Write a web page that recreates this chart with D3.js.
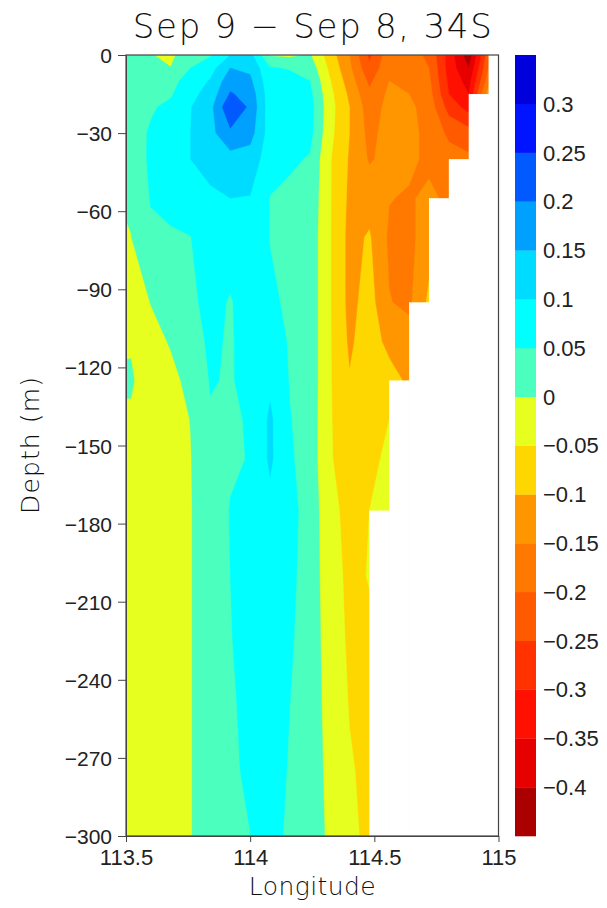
<!DOCTYPE html>
<html>
<head>
<meta charset="utf-8">
<script src="https://cdn.jsdelivr.net/npm/d3@7"></script>
<style>
  body { margin: 0; background: #fff; }
  svg { display: block; }
  text { font-family: "Liberation Sans", Arial, sans-serif; fill: #222; }
  text.title { font-family: "DejaVu Sans", sans-serif; font-weight: 300; fill: #111; }
</style>
</head>
<body>
<svg id="chart" width="607" height="908"></svg>
<script>
// Grid longitudes (degrees E) and model depth levels (m)
const lons = [113.44, 113.52, 113.60, 113.68, 113.76, 113.84, 113.92, 114.00, 114.08, 114.16,
              114.24, 114.32, 114.40, 114.48, 114.56, 114.64, 114.72, 114.80, 114.88, 114.96, 115.04];
const depths = [0, 5, 10, 15, 20, 30, 40, 55, 70, 95, 110, 125, 140, 155, 175, 200, 225, 250, 275, 300];

// Deepest wet level at each grid longitude (shelf topography)
const bottomDepth = [300, 300, 300, 300, 300, 300, 300, 300, 300, 300, 300, 300, 300, 300,
                     175, 125, 95, 55, 40, 15, 0];

// Temperature difference, one row per depth level, one value per longitude
const anomaly = [
  [ 0.015, 0.010, 0.002,-0.010, 0.030, 0.045, 0.100, 0.115,-0.005,-0.010, 0.005,-0.075,-0.150,-0.260,-0.170,-0.180,-0.210,-0.320,-0.430,-0.220,-0.220],
  [ 0.015, 0.012, 0.010, 0.001, 0.050, 0.080, 0.150, 0.140, 0.055, 0.045, 0.030,-0.060,-0.140,-0.240,-0.160,-0.170,-0.200,-0.320,-0.400,-0.200,-0.200],
  [ 0.018, 0.015, 0.020, 0.035, 0.070, 0.105, 0.180, 0.160, 0.065, 0.070, 0.050,-0.045,-0.125,-0.210,-0.150,-0.160,-0.190,-0.310,-0.370,-0.170,-0.170],
  [ 0.020, 0.020, 0.030, 0.045, 0.085, 0.120, 0.205, 0.180, 0.070, 0.080, 0.062,-0.035,-0.110,-0.190,-0.140,-0.150,-0.180,-0.300,-0.350,-0.120,-0.120],
  [ 0.025, 0.025, 0.045, 0.060, 0.098, 0.135, 0.245, 0.190, 0.070, 0.080, 0.070,-0.030,-0.100,-0.175,-0.135,-0.140,-0.170,-0.270,-0.320,-0.120,-0.120],
  [ 0.028, 0.030, 0.055, 0.065, 0.100, 0.135, 0.190, 0.170, 0.075, 0.075, 0.065,-0.035,-0.100,-0.165,-0.130,-0.135,-0.165,-0.210,-0.230,-0.120,-0.120],
  [ 0.025, 0.028, 0.056, 0.068, 0.100, 0.120, 0.130, 0.125, 0.075, 0.060, 0.045,-0.045,-0.105,-0.155,-0.135,-0.140,-0.160,-0.180,-0.190,-0.120,-0.120],
  [-0.004, 0.008, 0.053, 0.062, 0.075, 0.090, 0.100, 0.098, 0.048, 0.035, 0.035,-0.045,-0.110,-0.120,-0.148,-0.155,-0.140,-0.160,-0.190,-0.120,-0.120],
  [-0.010,-0.001, 0.040, 0.045, 0.049, 0.075, 0.075, 0.085, 0.048, 0.035, 0.030,-0.045,-0.115,-0.095,-0.158,-0.165,-0.120,-0.160,-0.190,-0.120,-0.120],
  [-0.020,-0.020, 0.001, 0.020, 0.040, 0.065, 0.046, 0.075, 0.060, 0.040, 0.030,-0.045,-0.115,-0.080,-0.148,-0.160,-0.090,-0.160,-0.190,-0.120,-0.120],
  [-0.006,-0.004,-0.012, 0.003, 0.030, 0.058, 0.045, 0.070, 0.075, 0.045, 0.030,-0.045,-0.108,-0.075,-0.115,-0.130,-0.090,-0.160,-0.190,-0.120,-0.120],
  [ 0.006, 0.005,-0.025,-0.010, 0.010, 0.053, 0.046, 0.065, 0.090, 0.047, 0.030,-0.045,-0.097,-0.070,-0.080,-0.110,-0.090,-0.160,-0.190,-0.120,-0.120],
  [-0.006,-0.006,-0.030,-0.020, 0.001, 0.045, 0.045, 0.053, 0.108, 0.052, 0.028,-0.045,-0.085,-0.065,-0.050,-0.110,-0.090,-0.160,-0.190,-0.120,-0.120],
  [-0.020,-0.025,-0.030,-0.025,-0.002, 0.040, 0.047, 0.051, 0.108, 0.056, 0.028,-0.045,-0.075,-0.060,-0.042,-0.110,-0.090,-0.160,-0.190,-0.120,-0.120],
  [-0.025,-0.030,-0.030,-0.025,-0.003, 0.035, 0.051, 0.070, 0.085, 0.065, 0.030,-0.035,-0.065,-0.050,-0.035,-0.110,-0.090,-0.160,-0.190,-0.120,-0.120],
  [-0.025,-0.030,-0.030,-0.025,-0.003, 0.035, 0.050, 0.070, 0.075, 0.060, 0.030,-0.030,-0.060,-0.048,-0.035,-0.110,-0.090,-0.160,-0.190,-0.120,-0.120],
  [-0.025,-0.030,-0.030,-0.025,-0.003, 0.035, 0.048, 0.065, 0.070, 0.055, 0.030,-0.025,-0.057,-0.058,-0.035,-0.110,-0.090,-0.160,-0.190,-0.120,-0.120],
  [-0.025,-0.030,-0.030,-0.025,-0.003, 0.035, 0.046, 0.058, 0.068, 0.050, 0.030,-0.020,-0.052,-0.060,-0.035,-0.110,-0.090,-0.160,-0.190,-0.120,-0.120],
  [-0.025,-0.030,-0.030,-0.025,-0.003, 0.035, 0.044, 0.056, 0.065, 0.047, 0.030,-0.015,-0.046,-0.060,-0.035,-0.110,-0.090,-0.160,-0.190,-0.120,-0.120],
  [-0.025,-0.030,-0.030,-0.025,-0.003, 0.035, 0.042, 0.0495,0.065, 0.042, 0.030,-0.010,-0.040,-0.060,-0.035,-0.110,-0.090,-0.160,-0.190,-0.120,-0.120]
];

// Contour levels and shading colours (lowest band first)
const levels = [-0.4, -0.35, -0.3, -0.25, -0.2, -0.15, -0.1, -0.05, 0, 0.05, 0.1, 0.15, 0.2, 0.25, 0.3];
const colors = ["#aa0000", "#e60000", "#ff1000", "#ff3200", "#ff5a00", "#ff7800", "#ff9600", "#ffd700",
                "#e6ff1e", "#4bffbe", "#00ffff", "#00dcff", "#00a0ff", "#005aff", "#0014ff", "#0000dc"];
const barRange = [-0.45, 0.35];

const depthTicks = [0, 30, 60, 90, 120, 150, 180, 210, 240, 270, 300];
const lonTicks = [113.5, 114, 114.5, 115];

const titleText = "Sep 9 \u2212 Sep 8, 34S";
const xTitle = "Longitude";
const yTitle = "Depth (m)";

// ---- layout ----
const plot = { left: 126, right: 498.5, top: 55, bottom: 836 };
const bar = { left: 515, right: 536, top: 55, bottom: 836 };

const svg = d3.select("#chart");

const x = d3.scaleLinear().domain([113.5, 115]).range([plot.left, plot.right]);
const y = d3.scaleLinear().domain([-300, 0]).range([plot.bottom, plot.top]);
const yDepth = d => y(-d);

// grid index -> coordinate (piecewise linear, handles uneven depth levels)
const nx = lons.length, ny = depths.length;
const lonAt = d3.scaleLinear().domain(d3.range(nx)).range(lons);
const depAt = d3.scaleLinear().domain(d3.range(ny)).range(depths);
const clamp = (v, lo, hi) => Math.max(lo, Math.min(hi, v));

const values = [];
for (let j = 0; j < ny; j++) for (let i = 0; i < nx; i++) values.push(anomaly[j][i]);

const thresholds = [d3.min(values)].concat(levels);
const contours = d3.contours().size([nx, ny]).thresholds(thresholds)(values);

const projection = d3.geoTransform({
  point(cx, cy) {
    this.stream.point(
      x(lonAt(clamp(cx - 0.5, 0, nx - 1))),
      yDepth(depAt(clamp(cy - 0.5, 0, ny - 1)))
    );
  }
});
const path = d3.geoPath(projection);

svg.append("clipPath").attr("id", "plot-clip")
  .append("rect")
  .attr("x", plot.left).attr("y", plot.top)
  .attr("width", plot.right - plot.left).attr("height", plot.bottom - plot.top);

const field = svg.append("g").attr("clip-path", "url(#plot-clip)");

field.selectAll("path.band")
  .data(contours)
  .join("path")
  .attr("class", "band")
  .attr("d", path)
  .attr("fill", (d, i) => colors[i])
  .attr("stroke", (d, i) => colors[i])
  .attr("stroke-width", 0.4);

// blank out cells below the sea floor
const cells = d3.range(nx - 1).map(k => ({
  x0: lons[k], x1: lons[k + 1],
  wet: Math.min(bottomDepth[k], bottomDepth[k + 1])
})).filter(c => c.wet < 300);

field.selectAll("rect.land")
  .data(cells)
  .join("rect")
  .attr("class", "land")
  .attr("x", d => x(d.x0))
  .attr("width", d => x(d.x1) - x(d.x0) + 0.5)
  .attr("y", d => yDepth(d.wet))
  .attr("height", d => yDepth(300) - yDepth(d.wet) + 1)
  .attr("fill", "#fff");

// frame
svg.append("rect")
  .attr("x", plot.left).attr("y", plot.top)
  .attr("width", plot.right - plot.left).attr("height", plot.bottom - plot.top)
  .attr("fill", "none").attr("stroke", "#444").attr("stroke-width", 1.2);

// axes
const yAxis = d3.axisLeft(y)
  .tickValues(depthTicks.map(d => -d))
  .tickFormat(d3.format("d"))
  .tickSize(8).tickSizeOuter(0).tickPadding(6);
const gy = svg.append("g").attr("transform", `translate(${plot.left},0)`).call(yAxis);
gy.select(".domain").attr("stroke", "#444");
gy.selectAll(".tick line").attr("stroke", "#444");
gy.selectAll(".tick text").style("font-size", "21px").attr("dy", "0.36em").attr("fill", "#222");

const xAxis = d3.axisBottom(x)
  .tickValues(lonTicks)
  .tickFormat(d3.format("~g"))
  .tickSize(6).tickSizeOuter(0).tickPadding(7);
const gx = svg.append("g").attr("transform", `translate(0,${plot.bottom})`).call(xAxis);
gx.select(".domain").attr("stroke", "#444");
gx.selectAll(".tick line").attr("stroke", "#444");
gx.selectAll(".tick text").style("font-size", "22px").attr("fill", "#222");

// colour bar
const cb = d3.scaleLinear().domain(barRange).range([bar.bottom, bar.top]);
const bounds = [barRange[0]].concat(levels, [barRange[1]]);
const boxes = d3.range(colors.length).map(i => ({ lo: bounds[i], hi: bounds[i + 1], c: colors[i] }));

svg.append("g").selectAll("rect")
  .data(boxes)
  .join("rect")
  .attr("x", bar.left)
  .attr("width", bar.right - bar.left)
  .attr("y", d => cb(d.hi))
  .attr("height", d => cb(d.lo) - cb(d.hi) + 0.3)
  .attr("fill", d => d.c);

svg.append("g").selectAll("text")
  .data(levels)
  .join("text")
  .attr("x", bar.right + 7)
  .attr("y", d => cb(d))
  .attr("dy", "0.36em")
  .style("font-size", "22px")
  .text(d3.format("~g"));

// titles
svg.append("text")
  .attr("class", "title")
  .attr("x", (plot.left + plot.right) / 2).attr("y", 38)
  .attr("text-anchor", "middle")
  .attr("textLength", 359).attr("lengthAdjust", "spacing")
  .style("font-size", "34px")
  .text(titleText);

svg.append("text")
  .attr("class", "title")
  .attr("x", (plot.left + plot.right) / 2).attr("y", 895)
  .attr("text-anchor", "middle")
  .attr("textLength", 127).attr("lengthAdjust", "spacing")
  .style("font-size", "25px")
  .text(xTitle);

svg.append("text")
  .attr("class", "title")
  .attr("transform", `translate(39,${(plot.top + plot.bottom) / 2}) rotate(-90)`)
  .attr("text-anchor", "middle")
  .attr("textLength", 137).attr("lengthAdjust", "spacing")
  .style("font-size", "25px")
  .text(yTitle);
</script>
</body>
</html>
